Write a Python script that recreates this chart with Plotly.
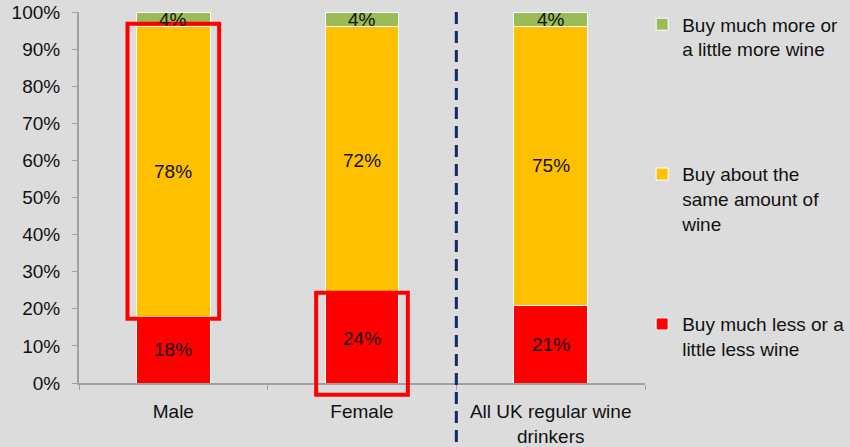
import plotly.graph_objects as go

# Survey groups and stacked shares (%)
groups = ["Male", "Female", "All UK regular wine<br>drinkers"]
less_wine = [18, 24, 21]
same_wine = [78, 72, 75]
more_wine = [4, 4, 4]

series_names = [
    "Buy much less or a<br>little less wine",
    "Buy about the<br>same amount of<br>wine",
    "Buy much more or<br>a little more wine",
]
series_colors = ["#ff0000", "#ffc000", "#9bbb59"]
y_ticks = list(range(0, 101, 10))
Y_RANGE = [0, 100]

FONT = "Liberation Sans, Arial, sans-serif"
FS = 19
TXT = "#111111"
BG = "#dcdcdc"


def to_paper(v):
    """Convert a value on the y axis to a paper fraction (axis spans the full domain)."""
    return (v - Y_RANGE[0]) / (Y_RANGE[1] - Y_RANGE[0])


fig = go.Figure()
series = [less_wine, same_wine, more_wine]
legend_ids = ["legend3", "legend2", "legend"]
for name, vals, color, lg in zip(series_names, series, series_colors, legend_ids):
    fig.add_trace(go.Bar(
        x=groups, y=vals, name=name,
        marker=dict(color=color, line=dict(color="white", width=1)),
        legend=lg, hoverinfo="skip",
    ))

# Value labels at the centre of each segment
for i, g in enumerate(groups):
    base = 0
    for vals in series:
        v = vals[i]
        fig.add_annotation(x=g, y=base + v / 2, text=f"{v}%", showarrow=False,
                           font=dict(family=FONT, size=FS, color=TXT),
                           xref="x", yref="y")
        base += v

# Highlight boxes: Male "same amount" segment and Female "less" segment.
# Paper y-reference so the Female box can extend below the axis line.
half_w = 0.243
box_line = dict(color="#ff0000", width=4)
fig.add_shape(type="rect", xref="x", yref="paper",
              x0=0 - half_w, x1=0 + half_w,
              y0=to_paper(less_wine[0] - 0.7),
              y1=to_paper(less_wine[0] + same_wine[0] + 0.8),
              line=box_line, fillcolor="rgba(0,0,0,0)")
fig.add_shape(type="rect", xref="x", yref="paper",
              x0=1 - half_w, x1=1 + half_w,
              y0=to_paper(-3.2), y1=to_paper(less_wine[1] + 0.3),
              line=box_line, fillcolor="rgba(0,0,0,0)")

# Separator between the gender split and the overall total
fig.add_shape(type="line", xref="x", yref="paper", x0=1.5, x1=1.5, y0=1.0, y1=-0.18,
              line=dict(color="#102a64", width=3, dash="12px,7px"))

legend_common = dict(
    font=dict(family=FONT, size=FS, color=TXT),
    bgcolor="rgba(0,0,0,0)", xanchor="left", yanchor="top",
    valign="top", itemclick=False, itemdoubleclick=False,
)
fig.update_layout(
    width=850, height=447, autosize=False,
    margin=dict(l=79, r=205, t=12, b=64, autoexpand=False),
    paper_bgcolor=BG, plot_bgcolor=BG,
    barmode="stack", bargap=0.61,
    font=dict(family=FONT, size=FS, color=TXT),
    legend=dict(x=0.995, y=1.018, **legend_common),
    legend2=dict(x=0.995, y=0.614, **legend_common),
    legend3=dict(x=0.995, y=0.21, **legend_common),
    xaxis=dict(
        showline=True, linecolor="#a0a0a0", linewidth=2,
        ticks="outside", tickson="boundaries", ticklen=5, tickcolor="#a0a0a0",
        tickfont=dict(family=FONT, size=FS, color=TXT), ticklabelstandoff=10,
        showgrid=False, zeroline=False,
    ),
    yaxis=dict(
        range=Y_RANGE, tickvals=y_ticks, ticktext=[f"{t}%" for t in y_ticks],
        showline=True, linecolor="#a0a0a0", linewidth=2,
        ticks="outside", ticklen=5, tickcolor="#a0a0a0",
        tickfont=dict(family=FONT, size=FS, color=TXT), ticklabelstandoff=8,
        showgrid=False, zeroline=False,
    ),
    showlegend=True,
)

fig.write_html("out.html")
